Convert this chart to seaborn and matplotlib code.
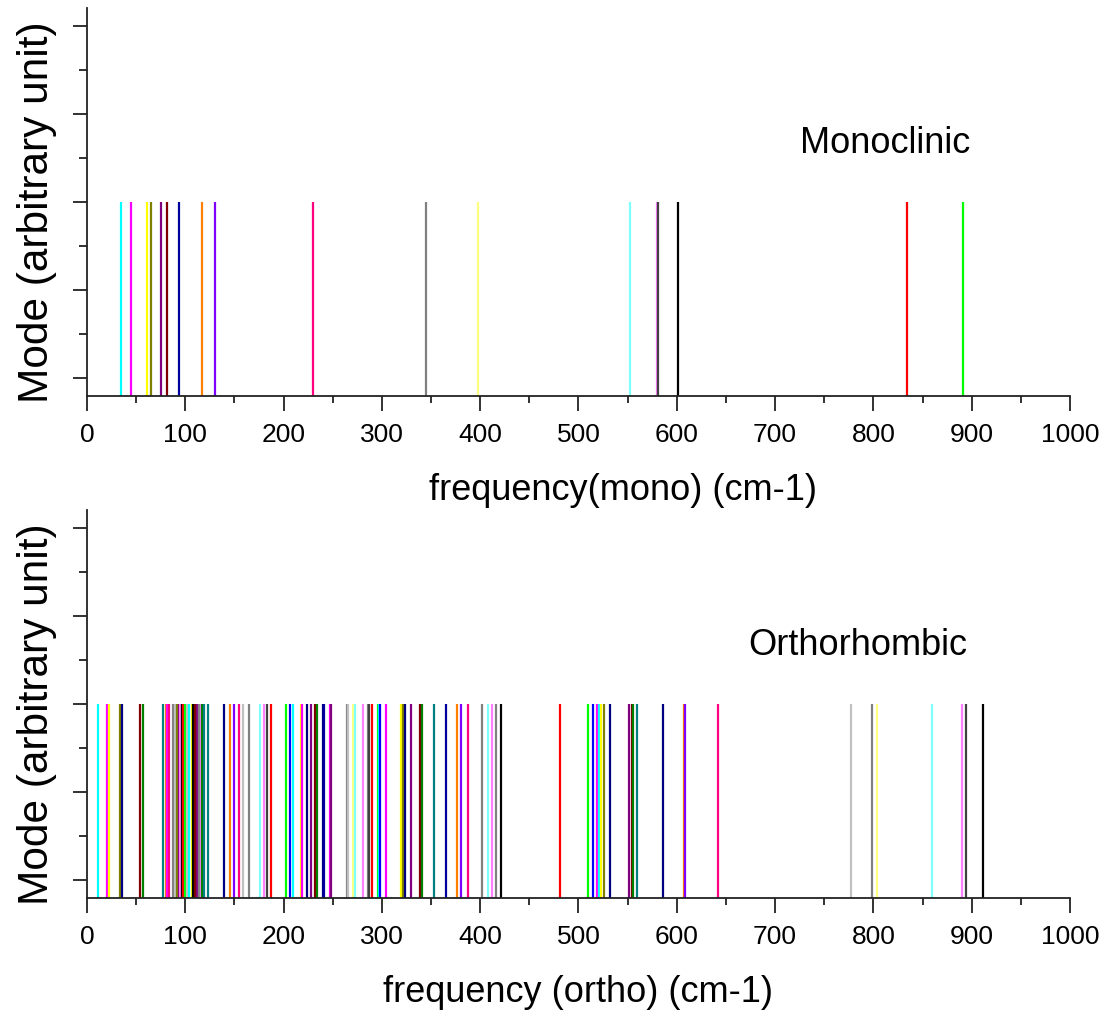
import matplotlib
matplotlib.use("Agg")
import matplotlib.pyplot as plt
import seaborn as sns
import pandas as pd
from matplotlib.ticker import MultipleLocator

# Origin-style colour names
C = {
    "black": "#000000", "red": "#FF0000", "green": "#00FF00", "blue": "#0000FF",
    "cyan": "#00FFFF", "magenta": "#FF00FF", "yellow": "#FFFF00", "dkyellow": "#808000",
    "navy": "#000080", "purple": "#800080", "wine": "#800000", "olive": "#008000",
    "dkcyan": "#008080", "royal": "#0000A0", "orange": "#FF8000", "violet": "#8000FF",
    "pink": "#FF0080", "ltgray": "#C0C0C0", "gray": "#808080", "ltyellow": "#FFFF80",
    "ltcyan": "#80FFFF", "ltmagenta": "#FF80FF", "dkgray": "#404040",
}

mono_freq = [34.9, 44.5, 61.3, 65.4, 75.3, 81.1, 93.6, 117.3, 129.9, 230.2,
             344.6, 397.8, 552.4, 579.5, 580.5, 601.2, 834.5, 891.5]
mono_color = ["cyan", "magenta", "yellow", "dkyellow", "purple", "wine", "royal", "orange",
              "violet", "pink", "gray", "ltyellow", "ltcyan", "ltmagenta", "dkgray", "black",
              "red", "green"]

ortho_freq = [10.9, 20.7, 22.0, 33.2, 35.9, 54.3, 57.3,
              77.6, 80.4, 81.7, 83.4, 87.8, 89.5, 91.2, 93.3, 94.6, 96.3, 98.0, 100.0,
              102.0, 104.1, 106.5, 108.1, 109.9, 111.6, 113.6, 115.7, 117.3, 119.3, 122.8,
              139.4, 145.5, 149.5, 154.9, 159.0, 164.8, 176.0, 180.1, 183.5, 186.9,
              202.4, 206.5, 209.2, 217.4, 218.7, 223.5, 227.6, 231.9, 234.3, 239.8, 241.1,
              247.0, 248.5, 264.2, 265.5, 270.9, 272.3, 280.4, 285.9, 286.9, 290.3,
              296.0, 297.4, 298.4, 304.2, 319.8, 321.1, 323.8, 329.3, 338.8, 340.5,
              353.0, 365.5, 376.7, 380.8, 387.6, 401.8, 407.6, 411.7, 416.1, 421.2,
              481.2, 509.3, 514.4, 519.1, 520.5, 523.2, 525.9, 531.7, 551.1, 554.4,
              555.8, 559.5, 586.0, 607.3, 608.7, 641.9, 776.9, 798.2, 803.6, 859.6,
              889.8, 894.2, 911.2]
ortho_color = ["cyan", "magenta", "yellow", "dkyellow", "navy", "wine", "olive",
               "dkcyan", "orange", "magenta", "pink", "gray", "ltgray", "dkyellow", "purple",
               "ltmagenta", "black", "red", "green",
               "ltgray", "cyan", "yellow", "black", "wine", "purple", "gray", "ltmagenta",
               "olive", "dkcyan", "dkcyan",
               "navy", "orange", "violet", "pink", "ltgray", "gray", "ltcyan", "ltmagenta",
               "dkgray", "red",
               "green", "blue", "cyan", "yellow", "magenta", "navy", "purple", "wine",
               "olive", "navy", "royal",
               "magenta", "purple", "gray", "ltgray", "ltyellow", "ltcyan", "ltmagenta",
               "gray", "dkgray", "red",
               "green", "cyan", "blue", "magenta", "yellow", "dkyellow", "navy", "purple",
               "wine", "olive",
               "dkcyan", "royal", "orange", "violet", "pink", "gray", "ltcyan", "ltmagenta",
               "gray", "black",
               "red", "green", "blue", "magenta", "cyan", "yellow", "dkyellow", "navy",
               "purple", "wine",
               "olive", "dkcyan", "navy", "orange", "violet", "pink", "ltgray", "gray",
               "ltyellow", "ltcyan",
               "ltmagenta", "dkgray", "black"]

panel_titles = ["Monoclinic", "Orthorhombic"]
title_pos = [(812, 1.33), (784, 1.33)]
x_labels = ["frequency(mono) (cm-1)", "frequency (ortho) (cm-1)"]
y_label = "Mode (arbitrary unit)"
mode_height = 1.0

sns.set_style("ticks")
plt.rcParams["font.family"] = ["Liberation Sans", "DejaVu Sans"]
plt.rcParams["text.color"] = "black"
plt.rcParams["axes.labelcolor"] = "black"
plt.rcParams["xtick.color"] = "#222222"
plt.rcParams["ytick.color"] = "#222222"
plt.rcParams["xtick.labelcolor"] = "black"

fig = plt.figure(figsize=(11.12, 10.23), dpi=100)
ax1 = fig.add_axes([0.0782, 0.6129, 0.884, 0.3793])
ax2 = fig.add_axes([0.0782, 0.1222, 0.884, 0.3793])

ymin, ymax = -0.1, 2.1
xlabel_x = [0.5 + 45 / 983, 0.5]
for ax, freqs, cols, title, tpos, xl, lx in [
        (ax1, mono_freq, mono_color, panel_titles[0], title_pos[0], x_labels[0], xlabel_x[0]),
        (ax2, ortho_freq, ortho_color, panel_titles[1], title_pos[1], x_labels[1], xlabel_x[1])]:
    df = pd.DataFrame({"freq": freqs, "id": [str(i) for i in range(len(freqs))]})
    pal = [C[c] for c in cols]
    sns.rugplot(data=df, x="freq", hue="id", palette=pal, legend=False,
                height=(mode_height - ymin) / (ymax - ymin), linewidth=1.6, alpha=1.0,
                expand_margins=False, ax=ax)
    ax.set_xlim(0, 1000)
    ax.set_ylim(ymin, ymax)
    ax.xaxis.set_major_locator(MultipleLocator(100))
    ax.xaxis.set_minor_locator(MultipleLocator(50))
    ax.yaxis.set_major_locator(MultipleLocator(0.5))
    ax.yaxis.set_minor_locator(MultipleLocator(0.25))
    ax.set_yticklabels([])
    ax.tick_params(axis="x", which="major", length=10.5, width=1.3, labelsize=19, pad=9)
    ax.tick_params(axis="x", which="minor", length=5, width=1.3)
    ax.tick_params(axis="y", which="major", length=10, width=1.3)
    ax.tick_params(axis="y", which="minor", length=5.5, width=1.3)
    for s in ["top", "right"]:
        ax.spines[s].set_visible(False)
    for s in ["left", "bottom"]:
        ax.spines[s].set_linewidth(1.3)
        ax.spines[s].set_color("#222222")
    ax.set_xlabel(xl, fontsize=26, labelpad=19)
    ax.xaxis.label.set_x(lx)
    ax.set_ylabel(y_label, fontsize=30.5, labelpad=8)
    ax.yaxis.label.set_y(0.5 - 10 / 388)
    ax.text(tpos[0], tpos[1], title, fontsize=26, ha="center", va="center")

fig.savefig("out.png", dpi=100)
